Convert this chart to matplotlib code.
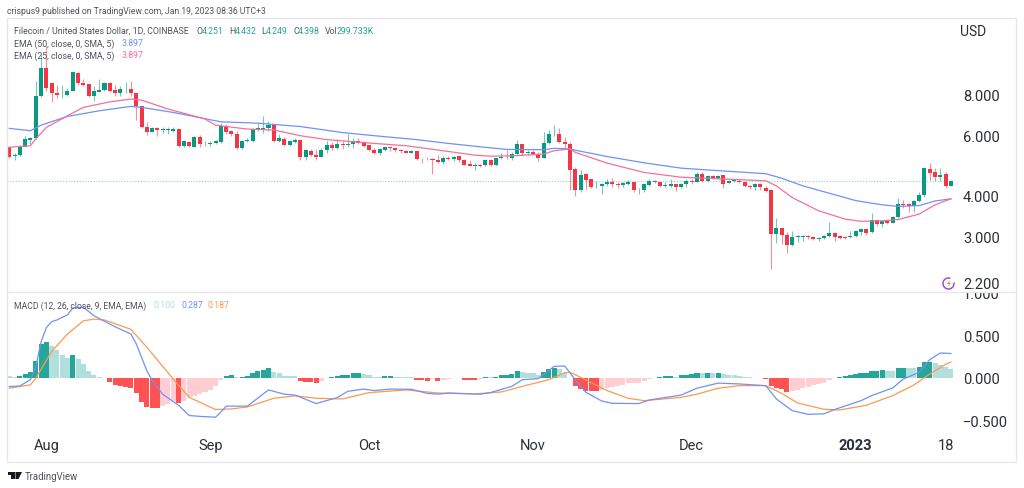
import numpy as np
import matplotlib
matplotlib.use('Agg')
import matplotlib.pyplot as plt
from matplotlib.patches import Rectangle, Arc, Polygon

plt.rcParams['font.family'] = ['Roboto', 'DejaVu Sans']

# daily candles, 25 Jul 2022 to 19 Jan 2023
opens = [5.58,5.22,5.26,5.56,5.82,5.92,7.87,9.56,8.63,8.05,
         7.93,7.95,8.18,9.26,8.63,8.57,7.89,8.13,8.20,8.63,
         8.22,8.07,8.28,8.28,8.03,7.35,6.36,6.18,6.32,6.26,
         6.26,6.20,6.29,5.61,5.77,5.58,5.97,5.66,5.69,5.70,
         5.74,6.43,6.19,6.09,5.54,5.80,5.81,6.29,6.29,6.33,
         6.48,5.81,5.89,5.64,5.77,5.84,5.19,5.41,5.26,5.20,
         5.46,5.64,5.51,5.66,5.64,5.67,5.80,5.73,5.62,5.46,
         5.32,5.46,5.56,5.52,5.45,5.42,5.35,5.40,5.12,5.11,
         5.12,5.10,5.03,5.17,5.11,5.22,5.10,4.94,4.89,4.93,
         4.91,5.09,4.90,5.15,5.21,5.17,5.31,5.66,5.33,5.37,
         5.31,5.17,5.71,6.08,6.08,5.76,5.67,4.78,4.13,4.61,
         4.46,4.22,4.25,4.30,4.36,4.31,4.28,4.32,4.37,4.13,
         4.13,4.28,4.41,4.37,4.26,4.26,4.31,4.23,4.32,4.41,
         4.38,4.62,4.39,4.55,4.50,4.58,4.33,4.39,4.41,4.37,
         4.26,4.23,4.31,4.21,4.14,3.06,3.20,3.05,2.83,2.99,
         3.00,3.02,3.00,2.95,2.98,3.01,3.08,3.02,2.99,2.99,
         3.02,3.11,3.17,3.10,3.36,3.28,3.35,3.30,3.44,3.77,
         3.76,3.71,3.84,4.00,4.78,4.67,4.54,4.61,4.251]
highs = [5.58,5.33,5.64,6.01,5.95,8.77,10.53,11.15,8.63,8.51,
         8.51,8.32,9.34,9.28,8.87,8.57,8.43,8.87,8.71,8.71,
         8.51,8.43,8.71,8.75,8.03,7.35,6.58,6.36,6.36,6.37,
         6.40,6.36,6.29,5.81,5.81,5.98,6.04,5.81,5.81,5.85,
         6.55,6.50,6.25,6.22,5.85,5.91,6.32,6.55,6.89,6.66,
         6.50,6.08,5.95,5.82,5.91,5.85,5.49,5.49,5.49,5.51,
         5.81,5.77,5.88,5.81,6.08,5.91,5.91,5.81,5.62,5.51,
         5.51,5.57,5.57,5.57,5.50,5.45,5.45,5.42,5.17,5.18,
         5.15,5.26,5.24,5.24,5.24,5.24,5.12,5.10,4.99,4.96,
         5.12,5.12,5.17,5.33,5.46,5.36,5.85,5.69,5.46,5.46,
         5.36,6.18,6.27,6.46,6.32,5.95,5.77,4.84,4.76,4.66,
         4.46,4.41,4.34,4.46,4.51,4.36,4.38,4.42,4.38,4.21,
         4.32,4.46,4.44,4.38,4.36,4.48,4.31,4.34,4.46,4.46,
         4.67,4.69,4.59,4.59,4.60,4.60,4.44,4.46,4.45,4.39,
         4.29,4.34,4.33,4.26,4.17,3.41,3.20,3.10,3.13,3.03,
         3.03,3.05,3.02,2.99,3.03,3.32,3.10,3.05,3.02,3.13,
         3.14,3.20,3.19,3.53,3.38,3.36,3.37,3.46,3.93,3.87,
         3.78,3.87,4.09,4.83,4.98,4.83,4.83,4.70,4.432]
lows = [5.17,5.08,5.22,5.55,5.67,5.88,7.82,8.15,7.55,7.80,
        7.80,7.91,8.16,8.51,8.43,7.82,7.62,8.09,8.16,8.13,
        7.87,7.91,8.05,7.91,6.71,6.32,6.04,6.15,6.01,6.12,
        6.08,6.18,5.55,5.55,5.55,5.55,5.58,5.61,5.61,5.66,
        5.71,6.08,5.98,5.49,5.49,5.74,5.77,6.22,6.11,6.22,
        5.77,5.74,5.61,5.61,5.73,5.10,5.10,5.22,5.07,5.18,
        5.33,5.46,5.49,5.49,5.57,5.51,5.67,5.58,5.42,5.30,
        5.26,5.42,5.42,5.38,5.35,5.32,5.32,5.08,4.98,5.07,
        4.62,4.98,4.96,5.07,5.06,5.03,4.90,4.87,4.76,4.86,
        4.89,4.87,4.87,5.12,5.12,5.10,5.26,5.26,5.26,5.26,
        5.06,5.15,5.67,5.98,5.70,5.54,4.15,3.98,4.09,4.17,
        4.20,4.20,4.04,4.26,4.24,4.21,4.24,4.28,4.09,4.02,
        4.09,4.26,4.33,4.23,4.23,4.24,4.11,4.21,4.22,4.31,
        4.36,4.38,4.36,4.46,4.46,4.19,4.30,4.36,4.34,4.23,
        4.17,4.13,4.15,4.09,2.40,2.88,2.86,2.69,2.82,2.90,
        2.92,2.95,2.93,2.92,2.95,3.00,2.92,2.95,2.95,2.98,
        3.00,3.05,3.05,3.08,3.24,3.21,3.27,3.29,3.42,3.65,
        3.55,3.57,3.82,3.95,4.43,4.41,4.40,4.20,4.249]
closes = [5.19,5.28,5.61,5.88,5.91,7.89,9.56,8.32,8.03,7.93,
          7.96,8.18,9.28,8.61,8.53,7.89,8.15,8.22,8.63,8.18,
          8.07,8.28,8.30,8.03,7.35,6.36,6.18,6.32,6.26,6.29,
          6.29,6.29,5.61,5.78,5.60,5.95,5.66,5.69,5.71,5.78,
          6.43,6.16,6.08,5.54,5.81,5.85,6.30,6.32,6.33,6.46,
          5.81,5.91,5.64,5.78,5.85,5.19,5.45,5.26,5.20,5.46,
          5.64,5.51,5.66,5.64,5.69,5.81,5.71,5.61,5.45,5.32,
          5.49,5.56,5.51,5.44,5.41,5.35,5.41,5.11,5.11,5.13,
          5.10,5.03,5.17,5.11,5.19,5.10,4.93,4.89,4.93,4.89,
          5.09,4.90,5.15,5.21,5.18,5.31,5.66,5.33,5.37,5.30,
          5.16,5.73,6.08,6.09,5.74,5.67,4.76,4.13,4.59,4.44,
          4.22,4.24,4.31,4.36,4.30,4.28,4.33,4.37,4.13,4.15,
          4.30,4.41,4.36,4.26,4.29,4.32,4.23,4.30,4.40,4.38,
          4.63,4.41,4.55,4.49,4.56,4.31,4.39,4.42,4.36,4.25,
          4.22,4.31,4.22,4.12,3.06,3.20,3.04,2.83,2.99,3.01,
          3.02,2.99,2.96,2.97,3.02,3.08,3.00,2.98,2.98,3.02,
          3.12,3.17,3.08,3.36,3.27,3.34,3.29,3.44,3.76,3.74,
          3.71,3.85,4.01,4.80,4.66,4.54,4.60,4.25,4.398]

ema50_day = [0,4,6,11,17,23,25,31,40,47,55,63,69,77,83,89,94,101,103,106,107,113,120,127,
             133,143,146,150,155,160,165,168,172,175,178]
ema50 = [6.32,6.22,6.46,6.86,7.13,7.35,7.30,7.05,6.61,6.55,6.40,6.14,6.01,5.85,5.70,5.57,5.47,5.46,5.51,5.49,5.44,5.21,4.99,4.81,
         4.74,4.63,4.49,4.26,4.05,3.85,3.74,3.70,3.72,3.84,3.897]
ema25_day = [0,4,5,7,11,14,19,23,25,30,37,39,45,50,55,60,63,69,75,82,88,91,96,101,103,106,107,113,120,127,
             133,143,145,148,153,158,161,165,168,172,175,178]
ema25 = [5.55,5.61,5.88,6.36,6.89,7.30,7.58,7.73,7.67,7.22,6.74,6.46,6.29,6.25,6.01,5.85,5.80,5.70,5.61,5.42,5.26,5.22,5.24,5.30,5.42,5.49,5.36,4.98,4.67,4.52,
         4.48,4.41,4.26,3.93,3.59,3.39,3.34,3.35,3.38,3.51,3.74,3.897]

hist = [.02,.016,.027,.047,.066,.20,.40,.42,.38,.33,
        .27,.234,.266,.22,.164,.086,.035,.008,.004,-.043,
        -.082,-.094,-.10,-.12,-.18,-.277,-.344,-.352,-.355,-.332,
        -.305,-.266,-.297,-.266,-.227,-.215,-.187,-.16,-.137,-.094,
        -.023,.023,.035,.012,.016,.02,.059,.082,.09,.113,
        .074,.063,.023,.02,.018,-.031,-.043,-.05,-.059,-.039,
        -.004,.008,.02,.03,.035,.055,.059,.043,.03,.016,
        .008,.02,.021,.016,.012,.008,.007,-.02,-.023,-.031,
        -.012,-.035,-.02,-.012,.004,-.004,-.02,-.021,-.022,-.008,
        .012,.008,.016,.03,.035,.05,.082,.07,.063,.059,
        .039,.07,.105,.12,.10,.059,.004,-.094,-.125,-.148,
        -.156,-.157,-.137,-.121,-.11,-.098,-.082,-.059,-.056,-.054,
        -.031,-.008,.004,.016,.02,.023,.016,.031,.035,.043,
        .059,.057,.059,.057,.059,.043,.033,.031,.023,.012,
        .008,.004,-.004,-.016,-.09,-.113,-.129,-.16,-.152,-.14,
        -.121,-.11,-.082,-.066,-.055,-.023,-.004,.012,.02,.035,
        .047,.055,.059,.082,.086,.088,.087,.086,.117,.121,
        .120,.118,.129,.184,.186,.172,.156,.129,.100]

macd_day = [0,2,4,5,6,7,8,9,11,12,14,16,20,23,24,26,27,29,32,34,36,39,40,41,45,49,52,54,58,62,
            64,67,69,72,76,79,81,83,89,91,95,97,100,103,105,107,109,112,114,119,121,127,
            130,134,138,143,145,148,151,154,156,161,163,167,169,172,174,176,178]
macd = [-.10,-.094,-.02,.125,.42,.59,.66,.68,.74,.82,.83,.73,.60,.515,.40,.086,-.03,-.19,-.32,-.44,-.45,-.46,-.40,-.33,-.33,-.14,-.19,-.20,-.30,-.23,
        -.156,-.13,-.148,-.13,-.133,-.18,-.19,-.176,-.19,-.17,-.098,-.02,-.008,.137,.14,-.02,-.168,-.27,-.297,-.30,-.258,-.20,
        -.12,-.06,-.07,-.09,-.246,-.383,-.426,-.42,-.37,-.266,-.207,-.117,-.012,.066,.215,.293,.287]
signal_day = [0,4,5,8,11,14,16,18,23,26,31,34,39,42,45,50,54,58,63,68,75,81,88,93,98,102,105,106,108,113,117,120,127,
              130,134,138,143,146,149,154,157,162,167,171,174,177,178]
signal = [-.12,-.08,-.004,.31,.515,.67,.69,.68,.57,.36,-.012,-.227,-.37,-.363,-.34,-.238,-.21,-.238,-.246,-.172,-.14,-.176,-.187,-.164,-.082,-.02,.062,.066,.008,-.148,-.238,-.266,-.227,
          -.19,-.12,-.09,-.09,-.18,-.293,-.367,-.375,-.32,-.207,-.082,.047,.16,.187]

date_ticks = [7, 38, 68, 99, 129, 160, 177]
date_labels = ['Aug', 'Sep', 'Oct', 'Nov', 'Dec', '2023', '18']
price_ticks = [2.2, 3.0, 4.0, 6.0, 8.0]
price_labels = ['2.200', '3.000', '4.000', '6.000', '8.000']
macd_ticks = [-0.5, 0.0, 0.5, 1.0]
macd_labels = ['\u22120.500', '0.000', '0.500', '1.000']

UP = '#089981'
DOWN = '#f23645'
TEXT = '#50535e'
AXIS_TEXT = '#2a2e39'
W, H = 1024, 489

def pane(top, bottom):
    return [7/W, (H-bottom)/H, 1009/W, (bottom-top)/H]

fig = plt.figure(figsize=(10.24, 4.89), dpi=100, facecolor='white')
ax = fig.add_axes(pane(19, 293))
ax2 = fig.add_axes(pane(293, 463), sharex=ax)

# candles
x = np.arange(len(opens))
o = np.array(opens)
c = np.array(closes)
colors = [UP if c[i] >= o[i] else DOWN for i in x]
ax.set_yscale('log')
ax.vlines(x, lows, highs, colors=colors, lw=0.8, alpha=0.55, zorder=2)
ax.bar(x, np.abs(c-o), bottom=np.minimum(o, c), width=0.76, color=colors, lw=0, zorder=3)
ax.plot(ema50_day, ema50, color='#6f92f5', lw=0.9, zorder=4)
ax.plot(ema25_day, ema25, color='#f4709a', lw=0.9, zorder=4)
ax.plot([-0.4, 178.5], [closes[-1], closes[-1]], color=UP, lw=0.8, ls=(0, (1, 1.5)), alpha=0.45, zorder=1)
ax.set_xlim(-0.43, 190.3)
ax.set_ylim(2.056, 13.48)

# macd pane
hist_colors = []
for i, h in enumerate(hist):
    rising = i == 0 or h >= hist[i-1]
    if h >= 0:
        hist_colors.append('#26a69a' if rising and i > 0 else '#b2dfdb')
    else:
        hist_colors.append('#ffcdd2' if rising else '#ff5252')
ax2.bar(x, hist, width=0.95, color=hist_colors, lw=0, zorder=2)
ax2.plot(macd_day, macd, color='#6f92f5', lw=0.9, zorder=4)
ax2.plot(signal_day, signal, color='#fb9a50', lw=0.9, zorder=3)
ax2.set_ylim(-0.985, 1.008)

for a, ticks, labels in [(ax, price_ticks, price_labels), (ax2, macd_ticks, macd_labels)]:
    a.yaxis.tick_right()
    a.set_yticks(ticks)
    a.set_yticklabels(labels)
    a.minorticks_off()
    a.tick_params(axis='y', length=0, pad=-38.2, labelsize=10.5, labelcolor=AXIS_TEXT)
    for lab in a.get_yticklabels():
        lab.set_ha('left')
        lab.set_clip_on(True)
        lab.set_clip_box(a.bbox)
    for s in a.spines.values():
        s.set_visible(False)
    a.patch.set_alpha(0)

ax.tick_params(axis='x', length=0, labelbottom=False)
ax2.set_xticks(date_ticks)
ax2.set_xticklabels(date_labels)
ax2.tick_params(axis='x', length=0, pad=-17, labelsize=10.5, labelcolor=AXIS_TEXT)
ax2.get_xticklabels()[5].set_fontweight('bold')

# overlay in pixel coordinates for the frame, captions and logos
top = fig.add_axes([0, 0, 1, 1], zorder=5)
top.set_xlim(0, W)
top.set_ylim(H, 0)
top.axis('off')
top.patch.set_alpha(0)
top.add_patch(Rectangle((7, 19), 1009, 444, fill=False, ec='#e6e7ea', lw=1))
top.plot([7, 1016], [293, 293], color='#e6e7ea', lw=1)

def label(px, py, s, color=TEXT, size=6.3, **kw):
    top.text(px, py, s, color=color, fontsize=size, va='center', ha='left', **kw)

label(7, 11, 'crispus9 published on TradingView.com, Jan 19, 2023 08:36 UTC+3', size=6.25)
label(13.5, 31, 'Filecoin / United States Dollar, 1D, COINBASE')
for px, val_px, name, val in [(196.7, 202, 'O', '4.251'), (229, 235, 'H', '4.432'),
                              (261.7, 266, 'L', '4.249'), (293.3, 298, 'C', '4.398')]:
    label(px, 31, name)
    label(val_px, 31, val, color='#2ba28f')
label(325, 31, 'Vol')
label(337, 31, '299.733K', color='#2ba28f')
label(13.5, 44, 'EMA (50, close, 0, SMA, 5)')
label(122, 44, '3.897', color='#6f92f5')
label(13.5, 56, 'EMA (25, close, 0, SMA, 5)')
label(122, 56, '3.897', color='#f4709a')
label(13.5, 306, 'MACD (12, 26, close, 9, EMA, EMA)', size=6.25)
label(154, 306, '0.100', color='#b2dfdb')
label(181, 306, '0.287', color='#6f92f5')
label(208, 306, '0.187', color='#fb9a50')
label(960, 32, 'USD', color=AXIS_TEXT, size=10)

# lightning badge
top.add_patch(Arc((948.5, 284.5), 11, 11, theta1=-10, theta2=290, ec='#a44dc8', lw=1.1))
top.add_patch(Polygon([(950, 281), (947, 285), (949, 285), (947.5, 288), (951, 284), (949, 284)], fc='#d98a3a', ec='none'))

# tradingview logo
top.add_patch(Polygon([(7.5, 473), (14.5, 473), (14.5, 480), (11, 480), (11, 476), (7.5, 476)], fc='#131722', ec='none'))
top.add_patch(Polygon([(15.5, 473), (22, 473), (18.5, 480), (15.5, 480)], fc='#131722', ec='none'))
label(24.5, 476.5, 'TradingView', color='#50535e', size=6.9)

fig.savefig('out.png', dpi=100)
